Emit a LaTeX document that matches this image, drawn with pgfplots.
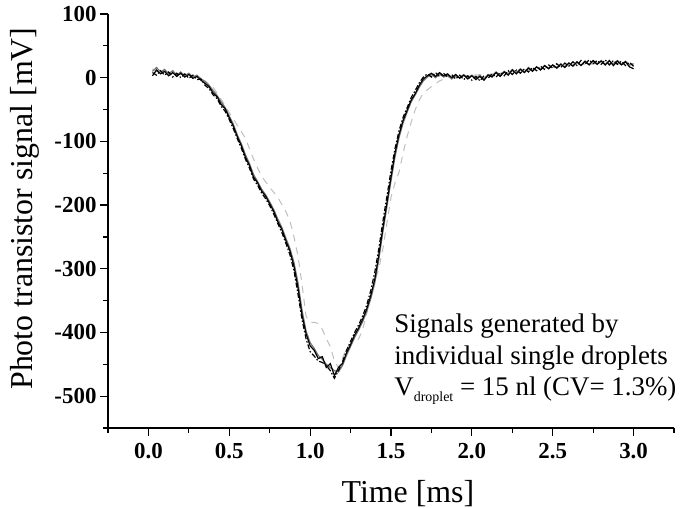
\documentclass[border=0pt]{standalone}
\usepackage{fontspec}
\setmainfont{Liberation Serif}
\usepackage{pgfplots}
\pgfplotsset{compat=1.18}

\begin{document}
\begin{tikzpicture}
\begin{axis}[
  scale only axis,
  width=566bp, height=414bp,
  xmin=-0.25, xmax=3.25,
  ymin=-550, ymax=100,
  axis x line=bottom, axis y line=left,
  axis line style={-, line width=1.2pt},
  xtick={0,0.5,...,3.0},
  minor xtick={-0.25,0.25,...,3.25},
  ytick={-500,-400,...,100},
  minor ytick={-550,-450,...,50},
  tick align=outside,
  major tick length=8bp,
  minor tick length=5bp,
  every tick/.style={black, line width=1.2pt},
  /pgf/number format/assume math mode=true,
  xticklabel style={font=\fontsize{23}{23}\selectfont\bfseries, yshift=-4bp, /pgf/number format/.cd, fixed, fixed zerofill, precision=1},
  yticklabel style={font=\fontsize{23}{23}\selectfont\bfseries},
  xlabel={Time [ms]},
  ylabel={Photo transistor signal [mV]},
  label style={font=\fontsize{32}{32}\selectfont},
  xlabel style={at={(axis description cs:0.53,-0.158)}, anchor=center},
  ylabel style={at={(axis description cs:-0.147,0.53)}, anchor=center},
  clip=false,
]

% light gray dashed
\addplot[color=black!25, line width=1pt, dash pattern=on 7bp off 6bp] coordinates {
  (0.025,14) (0.05,10) (0.1,9) (0.15,6) (0.2,5) (0.25,3) (0.3,1) (0.35,-5)
  (0.4,-15) (0.45,-34) (0.5,-55) (0.55,-75) (0.6,-95) (0.65,-128) (0.7,-155)
  (0.75,-172) (0.8,-188) (0.85,-210) (0.875,-225) (0.9,-250) (0.925,-280)
  (0.95,-325) (0.975,-375) (1.0,-384) (1.025,-384) (1.05,-386) (1.075,-395)
  (1.1,-410) (1.125,-422) (1.15,-445) (1.175,-455) (1.2,-440) (1.225,-425)
  (1.25,-418) (1.275,-414) (1.3,-410) (1.325,-395) (1.35,-370) (1.375,-342)
  (1.4,-320) (1.425,-300) (1.45,-268) (1.475,-228) (1.5,-188) (1.525,-165)
  (1.55,-148) (1.575,-118) (1.6,-92) (1.625,-70) (1.65,-50) (1.675,-35)
  (1.7,-24) (1.75,-14) (1.8,-5) (1.85,0) (1.9,2) (1.95,3) (2.0,4) (2.1,5)
  (2.2,8) (2.3,10) (2.4,13) (2.5,16) (2.6,19) (2.7,21) (2.8,22) (2.9,22) (3.0,20)
};

% dark gray solid
\addplot[color=black!55, line width=1.2pt] coordinates {
  (0.025,10) (0.05,16) (0.075,9) (0.1,13) (0.125,6) (0.15,11) (0.175,4) (0.2,9)
  (0.225,3) (0.25,7) (0.275,1) (0.3,4) (0.325,-2) (0.35,-6) (0.375,-12) (0.4,-20)
  (0.425,-28) (0.45,-38) (0.475,-47) (0.5,-60) (0.525,-73) (0.55,-90) (0.575,-104)
  (0.6,-121) (0.625,-135) (0.65,-152) (0.675,-163) (0.7,-175) (0.725,-184)
  (0.75,-195) (0.775,-207) (0.8,-222) (0.825,-235) (0.85,-252) (0.875,-268)
  (0.9,-290) (0.925,-322) (0.95,-365) (0.975,-398) (1.0,-416) (1.025,-425)
  (1.05,-436) (1.075,-442) (1.1,-450) (1.125,-455) (1.15,-460) (1.175,-462)
  (1.2,-452) (1.225,-436) (1.25,-422) (1.275,-408) (1.3,-396) (1.325,-383)
  (1.35,-367) (1.375,-347) (1.4,-322) (1.425,-285) (1.45,-242) (1.475,-202)
  (1.5,-162) (1.525,-124) (1.55,-94) (1.575,-71) (1.6,-54) (1.625,-38) (1.65,-27)
  (1.675,-15) (1.7,-5) (1.725,1) (1.75,5) (1.775,0) (1.8,6) (1.825,1) (1.85,4)
  (1.875,-2) (1.9,3) (1.925,0) (1.95,5) (1.975,0) (2.0,4) (2.025,-1) (2.05,4)
  (2.075,-2) (2.1,5) (2.125,3) (2.15,9) (2.175,4) (2.2,10) (2.225,6) (2.25,13)
  (2.275,8) (2.3,14) (2.325,9) (2.35,16) (2.375,11) (2.4,17) (2.425,13) (2.45,19)
  (2.475,15) (2.5,20) (2.525,16) (2.55,22) (2.575,17) (2.6,23) (2.625,19) (2.65,24)
  (2.675,20) (2.7,25) (2.725,21) (2.75,26) (2.775,22) (2.8,27) (2.825,21) (2.85,26)
  (2.875,22) (2.9,27) (2.925,21) (2.95,26) (2.975,20) (3.0,22)
};

% black dash-dot
\addplot[black, line width=1.2pt, dash pattern=on 5bp off 2bp on 1.5bp off 2bp] coordinates {
  (0.025,8) (0.05,4) (0.075,11) (0.1,4) (0.125,9) (0.15,1) (0.175,7) (0.2,0)
  (0.225,6) (0.25,-1) (0.275,4) (0.3,-3) (0.325,-2) (0.35,-12) (0.375,-17) (0.4,-27)
  (0.425,-33) (0.45,-45) (0.475,-53) (0.5,-66) (0.525,-80) (0.55,-96) (0.575,-111)
  (0.6,-128) (0.625,-142) (0.65,-159) (0.675,-169) (0.7,-181) (0.725,-190)
  (0.75,-201) (0.775,-214) (0.8,-229) (0.825,-243) (0.85,-260) (0.875,-278)
  (0.9,-303) (0.925,-340) (0.95,-380) (0.975,-410) (1.0,-430) (1.025,-437)
  (1.05,-445) (1.075,-447) (1.1,-452) (1.125,-460) (1.15,-472) (1.175,-460)
  (1.2,-446) (1.225,-428) (1.25,-414) (1.275,-400) (1.3,-388) (1.325,-374)
  (1.35,-357) (1.375,-334) (1.4,-305) (1.425,-268) (1.45,-225) (1.475,-186)
  (1.5,-146) (1.525,-111) (1.55,-83) (1.575,-62) (1.6,-47) (1.625,-31) (1.65,-20)
  (1.675,-8) (1.7,1) (1.725,6) (1.75,1) (1.775,8) (1.8,2) (1.825,7) (1.85,1)
  (1.875,5) (1.9,-2) (1.925,4) (1.95,-3) (1.975,3) (2.0,-4) (2.025,2) (2.05,-5)
  (2.075,3) (2.1,-1) (2.125,6) (2.15,1) (2.175,8) (2.2,3) (2.225,11) (2.25,5)
  (2.275,12) (2.3,7) (2.325,14) (2.35,9) (2.375,16) (2.4,11) (2.425,18) (2.45,13)
  (2.475,20) (2.5,15) (2.525,22) (2.55,16) (2.575,23) (2.6,18) (2.625,25) (2.65,19)
  (2.675,27) (2.7,21) (2.725,28) (2.75,22) (2.775,27) (2.8,21) (2.825,28) (2.85,20)
  (2.875,27) (2.9,21) (2.925,26) (2.95,19) (2.975,24) (3.0,18)
};

% black solid
\addplot[black, line width=1.2pt] coordinates {
  (0.025,3) (0.05,12) (0.075,6) (0.1,10) (0.125,3) (0.15,8) (0.175,2) (0.2,7)
  (0.225,1) (0.25,5) (0.275,-1) (0.3,2) (0.325,-4) (0.35,-9) (0.375,-14) (0.4,-24)
  (0.425,-30) (0.45,-42) (0.475,-49) (0.5,-63) (0.525,-76) (0.55,-93) (0.575,-107)
  (0.6,-125) (0.625,-138) (0.65,-156) (0.675,-165) (0.7,-178) (0.725,-186)
  (0.75,-198) (0.775,-210) (0.8,-226) (0.825,-238) (0.85,-256) (0.875,-272)
  (0.9,-296) (0.925,-330) (0.95,-373) (0.975,-402) (1.0,-421) (1.025,-428)
  (1.05,-441) (1.075,-438) (1.1,-455) (1.125,-449) (1.15,-468) (1.175,-455)
  (1.2,-449) (1.225,-432) (1.25,-419) (1.275,-404) (1.3,-393) (1.325,-379)
  (1.35,-363) (1.375,-342) (1.4,-316) (1.425,-278) (1.45,-236) (1.475,-196)
  (1.5,-156) (1.525,-118) (1.55,-89) (1.575,-67) (1.6,-51) (1.625,-35) (1.65,-25)
  (1.675,-12) (1.7,-2) (1.725,3) (1.75,7) (1.775,2) (1.8,8) (1.825,3) (1.85,6)
  (1.875,0) (1.9,5) (1.925,-1) (1.95,4) (1.975,-2) (2.0,3) (2.025,-3) (2.05,2)
  (2.075,-4) (2.1,4) (2.125,1) (2.15,8) (2.175,2) (2.2,9) (2.225,4) (2.25,12)
  (2.275,6) (2.3,13) (2.325,8) (2.35,15) (2.375,10) (2.4,17) (2.425,12) (2.45,19)
  (2.475,14) (2.5,20) (2.525,15) (2.55,21) (2.575,16) (2.6,23) (2.625,18) (2.65,25)
  (2.675,19) (2.7,26) (2.725,20) (2.75,27) (2.775,21) (2.8,26) (2.825,20) (2.85,27)
  (2.875,19) (2.9,26) (2.925,20) (2.95,25) (2.975,17) (3.0,14)
};

\node[anchor=north west, inner sep=0pt, align=left,
      font=\fontsize{27}{32}\selectfont]
  at (axis cs:1.52,-370) {Signals generated by\\individual single droplets\\V\raisebox{-6bp}{\fontsize{14}{14}\selectfont droplet} = 15 nl (CV= 1.3\%)};
\end{axis}
\pgfresetboundingbox
\path[use as bounding box] ([shift={(-108bp,-80bp)}]current axis.south west)
  rectangle ([shift={(579bp,428bp)}]current axis.south west);
\end{tikzpicture}
\end{document}
